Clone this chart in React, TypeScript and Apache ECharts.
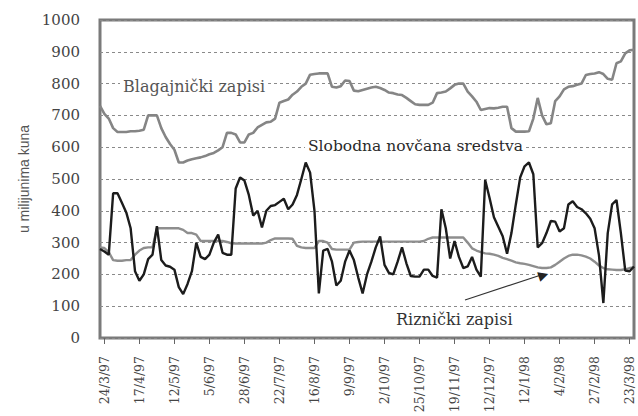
import React, { useEffect, useRef } from "react";
import * as echarts from "echarts";

const tickLabels = [
  "24/3/97", "17/4/97", "12/5/97", "5/6/97", "28/6/97", "22/7/97", "16/8/97", "9/9/97",
  "2/10/97", "25/10/97", "19/11/97", "12/12/97", "12/1/98", "4/2/98", "27/2/98", "23/3/98",
];

const blagajnicki = [
  730, 705, 690, 660, 648, 648, 648, 650, 650, 652,
  655, 700, 700, 700, 660, 632, 610, 592, 552, 552,
  558, 562, 565, 568, 572, 578, 582, 590, 600, 645,
  645, 640, 615, 615, 640, 645, 662, 670, 678, 680,
  690, 740, 745, 750, 765, 775, 790, 800, 828, 830,
  832, 832, 832, 790, 788, 792, 810, 808, 778, 776,
  780, 784, 788, 790, 786, 780, 772, 770, 766, 764,
  755, 745, 735, 733, 733, 733, 740, 770, 772, 775,
  785, 796, 800, 800, 775, 760, 743, 717, 720, 723,
  722, 724, 727, 727, 660, 649, 649, 649, 650, 690,
  755, 700, 672, 675, 745, 760, 782, 790, 792, 796,
  800, 827, 830, 832, 836, 830, 815, 812, 864, 870,
  895, 905, 906,
];

const riznicki = [
  285, 283, 270, 245, 243, 243, 245, 245, 262, 275,
  283, 285, 285, 345, 345, 345, 345, 345, 345, 340,
  330, 330, 325, 305, 305, 305, 305, 305, 305, 302,
  298, 297, 297, 297, 297, 297, 297, 297, 300, 308,
  313, 313, 313, 313, 312, 290, 285, 283, 283, 283,
  305, 305, 300, 280, 278, 278, 278, 278, 300, 302,
  303, 303, 303, 303, 303, 303, 303, 303, 303, 303,
  303, 303, 303, 303, 305, 312, 316, 316, 316, 316,
  316, 316, 316, 316, 300, 282, 275, 270, 266, 265,
  262, 258, 252, 248, 243, 238, 235, 233, 230, 226,
  222, 220, 220, 222, 230, 240, 250, 258, 262, 262,
  260, 256, 250, 240, 228, 220, 216, 215, 214, 214,
  216, 220, 222,
];

const slobodna = [
  280, 272, 262, 455, 455, 425, 395, 345, 210, 180,
  200, 248, 262, 352, 245, 228, 224, 215, 160, 138,
  170, 210, 300, 255, 248, 262, 300, 325, 268, 262,
  262, 470, 505, 495, 450, 385, 400, 348, 400, 415,
  418, 428, 438, 405, 420, 450, 500, 552, 520, 400,
  140, 275, 280, 240, 165, 180, 240, 275, 245, 190,
  140, 200, 240, 285, 319, 230, 205, 200, 240, 285,
  235, 195, 193, 193, 215, 215, 195, 190, 405, 345,
  250, 305, 255, 220, 225, 255, 215, 193, 497, 440,
  380, 350, 320, 265, 330, 420, 505, 540, 552, 515,
  285, 298, 330, 368, 366, 335, 345, 420, 430, 412,
  405, 392, 375, 345, 260, 110, 330, 420, 434, 330,
  212, 210, 225,
];

const STEP = 8;
const OFFSET = 1;

export default function App() {
  const ref = useRef<HTMLDivElement>(null);
  useEffect(() => {
    if (!ref.current) return;
    const chart = echarts.init(ref.current, null, { renderer: "svg" });
    const n = slobodna.length;
    const categories = Array.from({ length: n }, (_, i) =>
      (i - OFFSET) % STEP === 0 && (i - OFFSET) / STEP < tickLabels.length
        ? tickLabels[(i - OFFSET) / STEP]
        : "p" + i
    );
    const isTick = (index: number) => index >= OFFSET && (index - OFFSET) % STEP === 0;
    const serif = "DejaVu Serif";
    chart.setOption({
      animation: false,
      backgroundColor: "#ffffff",
      grid: {
        left: 100,
        top: 20,
        width: 534,
        height: 318,
        show: true,
        borderColor: "#7a7a7a",
        borderWidth: 3,
        containLabel: false,
        outerBoundsMode: "none",
      },
      xAxis: {
        type: "category",
        data: categories,
        boundaryGap: false,
        offset: 9,
        axisLine: { show: false },
        axisTick: { show: true, interval: isTick, length: 6, lineStyle: { color: "#666", width: 1 } },
        axisLabel: {
          interval: isTick,
          rotate: 90,
          margin: 9,
          fontFamily: serif,
          fontSize: 12.5,
          color: "#444",
        },
        splitLine: { show: false },
      },
      yAxis: {
        type: "value",
        min: 0,
        max: 1000,
        interval: 100,
        name: "u milijunima kuna",
        nameLocation: "middle",
        nameGap: 68,
        nameTextStyle: { fontFamily: "Liberation Sans", fontSize: 14, color: "#555" },
        axisLine: { show: false },
        axisTick: { show: false },
        axisLabel: {
          margin: 20,
          fontFamily: serif,
          fontSize: 15,
          color: "#444",
          formatter: (v: number) => String(v),
        },
        splitLine: {
          show: true,
          lineStyle: { type: [3, 3], color: "#8a8a8a", width: 1 },
        },
      },
      series: [
        {
          name: "Blagajnički zapisi",
          type: "line",
          data: blagajnicki,
          showSymbol: false,
          lineStyle: { color: "#858585", width: 2.6 },
          z: 2,
        },
        {
          name: "Riznički zapisi",
          type: "line",
          data: riznicki,
          showSymbol: false,
          lineStyle: { color: "#8e8e8e", width: 2.4 },
          z: 2,
        },
        {
          name: "Slobodna novčana sredstva",
          type: "line",
          data: slobodna,
          showSymbol: false,
          lineStyle: { color: "#1c1c1c", width: 2.4 },
          z: 3,
        },
      ],
      graphic: [
        {
          type: "text",
          left: 120,
          top: 78,
          z: 10,
          style: {
            text: "Blagajnički zapisi",
            fontSize: 16,
            fontFamily: serif,
            fill: "#555",
            backgroundColor: "#fff",
            padding: [0, 3],
          },
        },
        {
          type: "text",
          left: 305,
          top: 138,
          z: 10,
          style: {
            text: "Slobodna novčana sredstva",
            fontSize: 15.5,
            fontFamily: serif,
            fill: "#2a2a2a",
            backgroundColor: "#fff",
            padding: [0, 3],
          },
        },
        {
          type: "text",
          left: 396,
          top: 311,
          z: 10,
          style: {
            text: "Riznički zapisi",
            fontSize: 16,
            fontFamily: serif,
            fill: "#333",
          },
        },
        {
          type: "line",
          z: 10,
          shape: { x1: 465, y1: 300, x2: 541, y2: 275 },
          style: { stroke: "#333", lineWidth: 1.2 },
        },
        {
          type: "text",
          x: 543,
          y: 274.5,
          rotation: 0.318,
          z: 10,
          style: {
            text: "▶",
            fontSize: 13,
            fontFamily: "DejaVu Sans",
            fill: "#222",
            align: "center",
            verticalAlign: "middle",
          },
        },
      ],
    });
    return () => chart.dispose();
  }, []);
  return (
    <div
      ref={ref}
      style={{ position: "fixed", left: 0, top: 0, width: 638, height: 416, background: "#fff" }}
    />
  );
}
